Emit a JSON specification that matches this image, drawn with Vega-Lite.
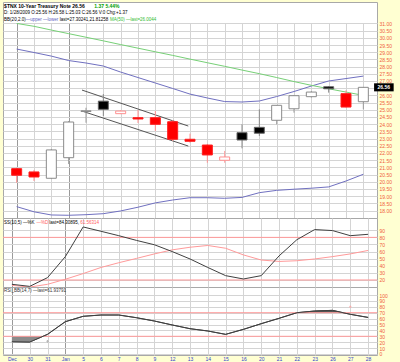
{
"$schema": "https://vega.github.io/schema/vega-lite/v6.json",
"background": "#ffffd2",
"padding": {"left": 2, "top": 1, "right": 10, "bottom": 0},
"spacing": 0,
"bounds": "flush",
"config": {
  "view": {"stroke": "#a8a8a8", "fill": "#ffffff"},
  "font": "Liberation Sans",
  "axis": {"labelFont": "Liberation Sans", "labelFontSize": 5, "domain": false, "ticks": false, "gridColor": "#d4d4d4", "gridWidth": 1, "labelOverlap": false, "labelBound": false, "labelFlush": false},
  "text": {"font": "Liberation Sans", "fontSize": 4.5, "align": "left", "baseline": "middle"}
},
"datasets": {
  "prices": [
    {"i":0,"day":"Dec 29","open":20.91,"high":20.98,"low":19.93,"close":20.45,"kind":"down","bbUp":29.22,"bbLo":18.27,"ma50":31.00,"k":13.9,"d":12.4,"rsi":20.8},
    {"i":1,"day":"Dec 30","open":20.68,"high":20.82,"low":20.05,"close":20.33,"kind":"down","bbUp":28.98,"bbLo":17.91,"ma50":30.80,"k":11.0,"d":10.0,"rsi":20.3},
    {"i":2,"day":"Dec 31","open":20.24,"high":22.28,"low":20.19,"close":22.21,"kind":"up","bbUp":28.73,"bbLo":17.69,"ma50":30.54,"k":23.3,"d":13.9,"rsi":33.3},
    {"i":3,"day":"Jan 2","open":21.67,"high":24.22,"low":21.23,"close":24.15,"kind":"up","bbUp":28.42,"bbLo":17.67,"ma50":30.29,"k":52.9,"d":21.0,"rsi":54.8},
    {"i":4,"day":"Jan 5","open":24.88,"high":25.14,"low":24.10,"close":24.93,"kind":"up","bbUp":28.25,"bbLo":17.71,"ma50":30.04,"k":94.7,"d":29.0,"rsi":63.9},
    {"i":5,"day":"Jan 6","open":25.60,"high":26.09,"low":24.57,"close":25.03,"kind":"downBlack","bbUp":28.04,"bbLo":17.78,"ma50":29.79,"k":88.6,"d":37.6,"rsi":66.1},
    {"i":6,"day":"Jan 7","open":24.73,"high":24.98,"low":24.70,"close":24.91,"kind":"upRed","bbUp":27.62,"bbLo":17.97,"ma50":29.53,"k":82.4,"d":44.3,"rsi":66.1},
    {"i":7,"day":"Jan 8","open":24.45,"high":24.98,"low":24.08,"close":24.36,"kind":"down","bbUp":27.24,"bbLo":18.23,"ma50":29.28,"k":75.7,"d":50.4,"rsi":61.5},
    {"i":8,"day":"Jan 9","open":24.45,"high":24.91,"low":23.53,"close":23.99,"kind":"down","bbUp":26.86,"bbLo":18.53,"ma50":29.03,"k":69.6,"d":56.7,"rsi":55.9},
    {"i":9,"day":"Jan 12","open":24.17,"high":24.27,"low":22.83,"close":22.95,"kind":"down","bbUp":26.48,"bbLo":18.73,"ma50":28.78,"k":60.0,"d":62.4,"rsi":49.2},
    {"i":10,"day":"Jan 13","open":22.95,"high":23.34,"low":22.71,"close":22.81,"kind":"down","bbUp":26.09,"bbLo":18.89,"ma50":28.52,"k":49.6,"d":66.1,"rsi":42.9},
    {"i":11,"day":"Jan 14","open":22.55,"high":22.62,"low":21.32,"close":21.86,"kind":"down","bbUp":25.82,"bbLo":18.89,"ma50":28.27,"k":37.6,"d":68.6,"rsi":39.0},
    {"i":12,"day":"Jan 15","open":21.49,"high":22.14,"low":21.32,"close":21.72,"kind":"upRed","bbUp":25.57,"bbLo":18.85,"ma50":28.02,"k":26.1,"d":64.7,"rsi":33.3},
    {"i":13,"day":"Jan 16","open":23.41,"high":23.99,"low":22.32,"close":22.90,"kind":"downBlack","bbUp":25.54,"bbLo":18.91,"ma50":27.76,"k":21.4,"d":55.3,"rsi":41.8},
    {"i":14,"day":"Jan 20","open":23.78,"high":25.03,"low":23.18,"close":23.37,"kind":"downBlack","bbUp":25.61,"bbLo":19.24,"ma50":27.51,"k":26.1,"d":48.1,"rsi":51.4},
    {"i":15,"day":"Jan 21","open":24.27,"high":25.33,"low":23.99,"close":25.31,"kind":"up","bbUp":25.92,"bbLo":19.40,"ma50":27.24,"k":53.9,"d":46.1,"rsi":60.5},
    {"i":16,"day":"Jan 22","open":25.07,"high":26.03,"low":24.80,"close":25.98,"kind":"up","bbUp":26.27,"bbLo":19.48,"ma50":26.96,"k":76.7,"d":47.1,"rsi":70.0},
    {"i":17,"day":"Jan 23","open":25.91,"high":26.30,"low":25.85,"close":26.23,"kind":"up","bbUp":26.65,"bbLo":19.55,"ma50":26.70,"k":91.0,"d":49.6,"rsi":72.9},
    {"i":18,"day":"Jan 26","open":26.60,"high":26.65,"low":26.19,"close":26.46,"kind":"downBlack","bbUp":27.00,"bbLo":19.64,"ma50":26.46,"k":89.6,"d":52.9,"rsi":74.0},
    {"i":19,"day":"Jan 27","open":26.12,"high":26.35,"low":25.16,"close":25.19,"kind":"down","bbUp":27.17,"bbLo":20.05,"ma50":26.23,"k":82.4,"d":56.7,"rsi":67.3},
    {"i":20,"day":"Jan 28","open":25.56,"high":26.58,"low":25.03,"close":26.56,"kind":"up","bbUp":27.34,"bbLo":20.52,"ma50":26.00,"k":84.3,"d":61.6,"rsi":62.0}
  ],
  "channel": [
    {"i":3.77,"i2":9.9,"v":26.37,"v2":23.87},
    {"i":3.77,"i2":9.9,"v":24.91,"v2":22.48}
  ],
  "oversold": [
    {"i":0,"lo":20.8,"hi":30},
    {"i":1,"lo":20.3,"hi":30},
    {"i":1.75,"lo":30,"hi":30}
  ],
  "overbought": [
    {"i":16,"lo":70,"hi":70},
    {"i":17,"lo":70,"hi":72.9},
    {"i":18,"lo":70,"hi":74},
    {"i":18.6,"lo":70,"hi":70}
  ],
  "signals": [
    {"i":2,"v":21.5,"sig":"buy"},
    {"i":19,"v":80.2,"sig":"sell"}
  ]
},
"vconcat": [
  {
    "width": 374, "height": 21,
    "data": {"values": [{}]},
    "layer": [
      {"mark": {"type": "text", "text": "$TNX 10-Year Treasury Note 26.56", "fontWeight": "bold", "fontSize": 5, "color": "#000000"},
       "encoding": {"x": {"datum": 0.3, "type": "quantitative", "scale": {"domain": [0, 100], "nice": false}, "axis": null},
                    "y": {"datum": 1, "type": "quantitative", "scale": {"domain": [0.5, 3.4], "reverse": true, "nice": false, "zero": false}, "axis": null}}},
      {"mark": {"type": "text", "text": "1.37  5.44%", "fontWeight": "bold", "fontSize": 5, "color": "#00a000"},
       "encoding": {"x": {"datum": 24.4, "type": "quantitative", "axis": null}, "y": {"datum": 1, "type": "quantitative", "axis": null}}},
      {"mark": {"type": "text", "text": "D: 1/28/2009 O:25.56 H:26.58 L:25.03 C:26.56 V:0 Chg:+1.37", "color": "#000000"},
       "encoding": {"x": {"datum": 0.3, "type": "quantitative", "axis": null}, "y": {"datum": 2, "type": "quantitative", "axis": null}}},
      {"mark": {"type": "text", "text": "BB(20,2.0)", "color": "#000000"},
       "encoding": {"x": {"datum": 0.3, "type": "quantitative", "axis": null}, "y": {"datum": 3, "type": "quantitative", "axis": null}}},
      {"mark": {"type": "text", "text": "—upper —lower", "color": "#5b5bc0"},
       "encoding": {"x": {"datum": 6.1, "type": "quantitative", "axis": null}, "y": {"datum": 3, "type": "quantitative", "axis": null}}},
      {"mark": {"type": "text", "text": "last=27.30241,21.81258", "color": "#000000"},
       "encoding": {"x": {"datum": 15.2, "type": "quantitative", "axis": null}, "y": {"datum": 3, "type": "quantitative", "axis": null}}},
      {"mark": {"type": "text", "text": "MA(50) —last=26.0044", "color": "#33bb33"},
       "encoding": {"x": {"datum": 28.6, "type": "quantitative", "axis": null}, "y": {"datum": 3, "type": "quantitative", "axis": null}}}
    ]
  },
  {
    "width": 374, "height": 195,
    "layer": [
      {"data": {"name": "prices"}, "mark": {"type": "line", "color": "#7070c0", "strokeWidth": 1, "clip": true},
       "encoding": {
         "x": {"field": "i", "type": "quantitative", "scale": {"domain": [-0.5, 20.5], "nice": false, "zero": false},
               "axis": {"title": null, "values": [0,1,2,3,4,5,6,7,8,9,10,11,12,13,14,15,16,17,18,19,20], "tickCount": 40, "labels": false, "grid": true,
                        "gridColor": {"condition": {"test": "datum.value === 0 || datum.value === 3", "value": "#9a9a9a"}, "value": "#d4d4d4"}}},
         "y": {"field": "bbUp", "type": "quantitative", "scale": {"domain": [17.48, 31.03], "nice": false, "zero": false},
               "axis": {"title": null, "orient": "right", "values": [18,18.5,19,19.5,20,20.5,21,21.5,22,22.5,23,23.5,24,24.5,25,25.5,26,26.5,27,27.5,28,28.5,29,29.5,30,30.5,31], "tickCount": 40,
                        "labelExpr": "datum.value === 26.5 ? '' : format(datum.value, '.2f')", "labelColor": "#f0603c", "labelPadding": 2, "grid": true}}}},
      {"data": {"name": "prices"}, "mark": {"type": "line", "color": "#7070c0", "strokeWidth": 1, "clip": true},
       "encoding": {"x": {"field": "i", "type": "quantitative"}, "y": {"field": "bbLo", "type": "quantitative"}}},
      {"data": {"name": "prices"}, "mark": {"type": "line", "color": "#77d077", "strokeWidth": 1, "clip": true},
       "encoding": {"x": {"field": "i", "type": "quantitative"}, "y": {"field": "ma50", "type": "quantitative"}}},
      {"data": {"name": "channel"}, "mark": {"type": "rule", "color": "#555555", "strokeWidth": 1},
       "encoding": {"x": {"field": "i", "type": "quantitative"}, "x2": {"field": "i2"},
                    "y": {"field": "v", "type": "quantitative"}, "y2": {"field": "v2"}}},
      {"data": {"name": "prices"}, "mark": {"type": "rule", "strokeWidth": 1},
       "encoding": {"x": {"field": "i", "type": "quantitative"},
                    "y": {"field": "low", "type": "quantitative"}, "y2": {"field": "high"},
                    "color": {"field": "kind", "type": "nominal", "scale": {"domain": ["up","upRed","downBlack","down"], "range": ["#9a9a9a","#ff9d9d","#888888","#ff9090"]}, "legend": null}}},
      {"data": {"name": "prices"}, "mark": {"type": "bar", "width": 10, "strokeWidth": 1},
       "encoding": {"x": {"field": "i", "type": "quantitative"},
                    "y": {"field": "open", "type": "quantitative"}, "y2": {"field": "close"},
                    "fill": {"field": "kind", "type": "nominal", "scale": {"domain": ["up","upRed","downBlack","down"], "range": ["#ffffff","#ffffff","#000000","#ff0000"]}, "legend": null},
                    "stroke": {"field": "kind", "type": "nominal", "scale": {"domain": ["up","upRed","downBlack","down"], "range": ["#8a8a8a","#ff9090","#666666","#ff2020"]}, "legend": null}}},
      {"data": {"name": "prices"}, "transform": [{"filter": "datum.i === 20"}], "mark": {"type": "rect", "color": "#000000"},
       "encoding": {"x": {"datum": 20.62, "type": "quantitative"}, "x2": {"datum": 21.75},
                    "y": {"datum": 26.28, "type": "quantitative"}, "y2": {"datum": 26.84}}},
      {"data": {"name": "prices"}, "transform": [{"filter": "datum.i === 20"}], "mark": {"type": "text", "color": "#ffffff", "fontSize": 5, "fontWeight": "bold", "align": "center"},
       "encoding": {"x": {"datum": 21.18, "type": "quantitative"},
                    "y": {"field": "close", "type": "quantitative"},
                    "text": {"field": "close", "type": "quantitative", "format": ".2f"}}}
    ]
  },
  {
    "width": 374, "height": 69,
    "layer": [
      {"data": {"name": "prices"}, "mark": {"type": "line", "color": "#ff9a9a", "strokeWidth": 1},
       "encoding": {
         "x": {"field": "i", "type": "quantitative", "scale": {"domain": [-0.5, 20.5], "nice": false, "zero": false},
               "axis": {"title": null, "values": [0,1,2,3,4,5,6,7,8,9,10,11,12,13,14,15,16,17,18,19,20], "tickCount": 40, "labels": false, "grid": true,
                        "gridColor": {"condition": {"test": "datum.value === 0 || datum.value === 3", "value": "#9a9a9a"}, "value": "#d4d4d4"}}},
         "y": {"field": "d", "type": "quantitative", "scale": {"domain": [10.1, 107.3], "nice": false, "zero": false},
               "axis": {"title": null, "orient": "right", "values": [20,30,40,50,60,70,80,90], "tickCount": 40, "labelColor": "#f0603c", "labelPadding": 2, "grid": true}}}},
      {"data": {"values": [{}]}, "mark": {"type": "rule", "color": "#ff9a9a"}, "encoding": {"y": {"datum": 80, "type": "quantitative"}}},
      {"data": {"values": [{}]}, "mark": {"type": "rule", "color": "#ff9a9a"}, "encoding": {"y": {"datum": 20, "type": "quantitative"}}},
      {"data": {"name": "prices"}, "mark": {"type": "line", "color": "#404040", "strokeWidth": 1},
       "encoding": {"x": {"field": "i", "type": "quantitative"}, "y": {"field": "k", "type": "quantitative"}}},
      {"data": {"values": [{}]}, "mark": {"type": "text", "text": "SS(10,5) —%K", "color": "#000000"},
       "encoding": {"x": {"datum": -0.44, "type": "quantitative"}, "y": {"datum": 100.3, "type": "quantitative"}}},
      {"data": {"values": [{}]}, "mark": {"type": "text", "text": "—%D", "color": "#ff6060"},
       "encoding": {"x": {"datum": 1.38, "type": "quantitative"}, "y": {"datum": 100.3, "type": "quantitative"}}},
      {"data": {"values": [{}]}, "mark": {"type": "text", "text": "last=84.30895,", "color": "#000000"},
       "encoding": {"x": {"datum": 2.1, "type": "quantitative"}, "y": {"datum": 100.3, "type": "quantitative"}}},
      {"data": {"values": [{}]}, "mark": {"type": "text", "text": "61.56314", "color": "#ff6060"},
       "encoding": {"x": {"datum": 3.84, "type": "quantitative"}, "y": {"datum": 100.3, "type": "quantitative"}}}
    ]
  },
  {
    "width": 374, "height": 68,
    "layer": [
      {"data": {"name": "prices"}, "mark": {"type": "line", "color": "#404040", "strokeWidth": 1},
       "encoding": {
         "x": {"field": "i", "type": "quantitative", "scale": {"domain": [-0.5, 20.5], "nice": false, "zero": false},
               "axis": {"title": null, "values": [0,1,2,3,4,5,6,7,8,9,10,11,12,13,14,15,16,17,18,19,20], "tickCount": 40, "labels": true, "grid": true,
                        "labelExpr": "['Dec','30','31','Jan','5','6','7','8','9','12','13','14','15','16','20','21','22','23','26','27','28'][datum.value]",
                        "labelColor": "#3344cc", "labelPadding": 1,
                        "gridColor": {"condition": {"test": "datum.value === 0 || datum.value === 3", "value": "#9a9a9a"}, "value": "#d4d4d4"}}},
         "y": {"field": "rsi", "type": "quantitative", "scale": {"domain": [-1.7, 113.6], "nice": false, "zero": false},
               "axis": {"title": null, "orient": "right", "values": [0,10,20,30,40,50,60,70,80,90,100], "tickCount": 40, "labelColor": "#f0603c", "labelPadding": 2, "grid": true}}}},
      {"data": {"name": "oversold"}, "mark": {"type": "area", "color": "#8a8a8a", "opacity": 1},
       "encoding": {"x": {"field": "i", "type": "quantitative"}, "y": {"field": "lo", "type": "quantitative"}, "y2": {"field": "hi"}}},
      {"data": {"name": "overbought"}, "mark": {"type": "area", "color": "#555555", "opacity": 1},
       "encoding": {"x": {"field": "i", "type": "quantitative"}, "y": {"field": "lo", "type": "quantitative"}, "y2": {"field": "hi"}}},
      {"data": {"values": [{}]}, "mark": {"type": "rule", "color": "#ff9a9a"}, "encoding": {"y": {"datum": 70, "type": "quantitative"}}},
      {"data": {"values": [{}]}, "mark": {"type": "rule", "color": "#ff9a9a"}, "encoding": {"y": {"datum": 30, "type": "quantitative"}}},
      {"data": {"name": "prices"}, "mark": {"type": "line", "color": "#404040", "strokeWidth": 1},
       "encoding": {"x": {"field": "i", "type": "quantitative"}, "y": {"field": "rsi", "type": "quantitative"}}},
      {"data": {"name": "signals"}, "mark": {"type": "point", "shape": "cross", "size": 6, "filled": true},
       "encoding": {"x": {"field": "i", "type": "quantitative"}, "y": {"field": "v", "type": "quantitative"},
                    "color": {"field": "sig", "type": "nominal", "scale": {"domain": ["buy","sell"], "range": ["#22cc22","#ff4444"]}, "legend": null}}},
      {"data": {"values": [{}]}, "mark": {"type": "text", "text": "RSI_BB(14,7) —last=61.93791", "color": "#333333"},
       "encoding": {"x": {"datum": -0.44, "type": "quantitative"}, "y": {"datum": 107.6, "type": "quantitative"}}}
    ]
  }
]
}
